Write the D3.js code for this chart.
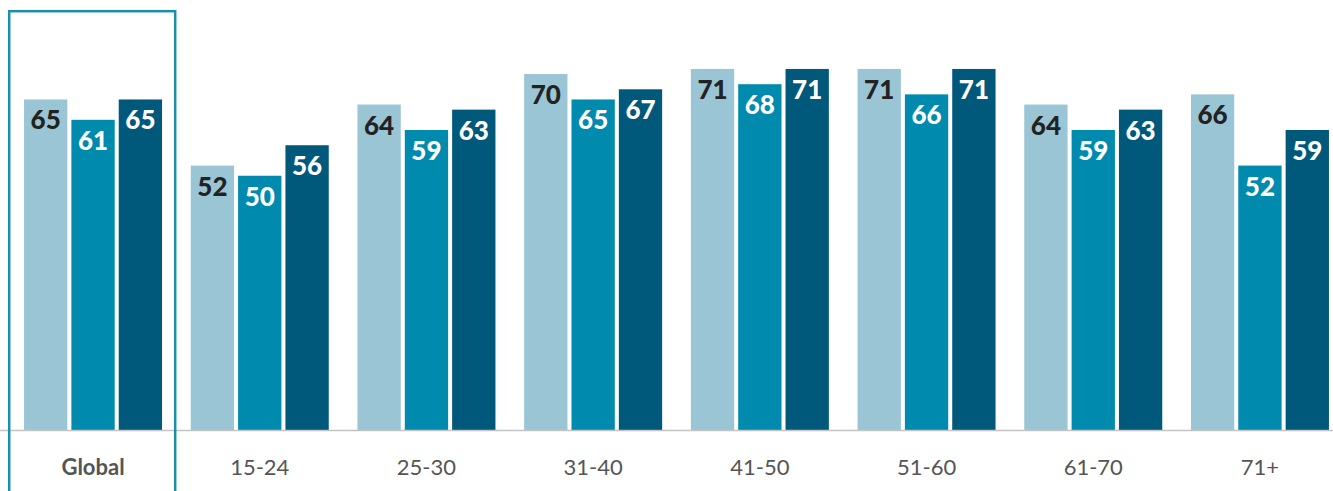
<!DOCTYPE html>
<html><head><meta charset="utf-8">
<script src="https://cdn.jsdelivr.net/npm/d3@7"></script>
<style>body{margin:0;background:#fff;}svg{display:block;}</style>
</head><body>
<script>
const categories = ["Global","15-24","25-30","31-40","41-50","51-60","61-70","71+"];
const seriesA = [65,52,64,70,71,71,64,66];
const seriesB = [61,50,59,65,68,66,59,52];
const seriesC = [65,56,63,67,71,71,63,59];
const seriesNames = ["A","B","C"];
const colors = ["#9ac5d4","#008aad","#00587a"];
const labelColors = ["#222222","#ffffff","#ffffff"];

const W = 1333, H = 491;
const svg = d3.select("body").append("svg").attr("width",W).attr("height",H);
const base = 430;
const x = d3.scaleBand().domain(categories).range([9.7,1343.3]).paddingInner(0).paddingOuter(0);
const x1 = d3.scaleBand().domain(seriesNames).range([0,138]).paddingInner(0.085).paddingOuter(0);
const y = d3.scaleLinear().domain([0,84.56]).range([base,0]);
const series = [seriesA,seriesB,seriesC];

const groupOffset = (x.bandwidth()-138)/2;
categories.forEach((c,i)=>{
  const g = svg.append("g").attr("transform",`translate(${x(c)+groupOffset},0)`);
  series.forEach((s,j)=>{
    const v = s[i];
    g.append("rect").attr("x",x1(seriesNames[j])).attr("width",x1.bandwidth())
      .attr("y",y(v)).attr("height",base-y(v)).attr("fill",colors[j]);
    g.append("text").attr("x",x1(seriesNames[j])+x1.bandwidth()/2).attr("y",y(v)+30)
      .attr("text-anchor","middle").attr("font-family","Lato, sans-serif").attr("font-weight",900)
      .attr("font-size",26).attr("fill",labelColors[j]).text(v);
  });
});

svg.append("line").attr("x1",0).attr("x2",W).attr("y1",base+0.5).attr("y2",base+0.5)
  .attr("stroke","#c4c4c4").attr("stroke-width",1.5);

const xAxis = svg.append("g").attr("transform",`translate(0,${base})`)
  .call(d3.axisBottom(x).tickSize(0).tickPadding(0));
xAxis.select(".domain").remove();
xAxis.selectAll("text").attr("y",45).attr("dy",0).attr("font-family","Lato, sans-serif")
  .attr("font-size",22).attr("fill","#555")
  .attr("font-weight",d=>d==="Global"?700:400);

svg.append("rect").attr("x",9.2).attr("y",11.2).attr("width",166).attr("height",H)
  .attr("fill","none").attr("stroke","#1a8eab").attr("stroke-width",2.5);
</script>
</body></html>
